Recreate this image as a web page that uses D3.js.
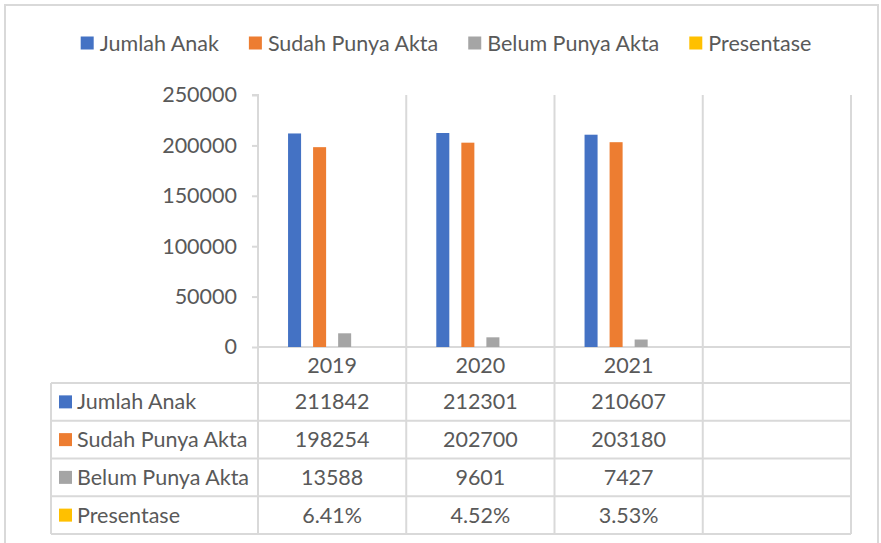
<!DOCTYPE html>
<html>
<head>
<meta charset="utf-8">
<script src="https://cdn.jsdelivr.net/npm/d3@7"></script>
<style>
  body { margin: 0; background: #fff; }
  text { font-family: Lato, "Open Sans", sans-serif; fill: #595959; }
</style>
</head>
<body>
<div id="chart"></div>
<script>
// data
const years = ["2019", "2020", "2021", ""];
const seriesNames = ["Jumlah Anak", "Sudah Punya Akta", "Belum Punya Akta", "Presentase"];
const jumlahAnak = [211842, 212301, 210607];
const sudahPunya = [198254, 202700, 203180];
const belumPunya = [13588, 9601, 7427];
const presentase = [6.41, 4.52, 3.53];
const yTicks = [0, 50000, 100000, 150000, 200000, 250000];
const colors = ["#4472C4", "#ED7D31", "#A5A5A5", "#FFC000"];

const series = [jumlahAnak, sudahPunya, belumPunya, presentase];
const fmt = [d => d, d => d, d => d, d => d.toFixed(2) + "%"];

const W = 881, H = 543;
const fontSize = 21.5;
const gridColor = "#d9d9d9";

// plot area
const plot = {left: 258, right: 851, top: 95, bottom: 347};
const tableLeft = 51, tableTop = 383, rowH = 37.75;

const svg = d3.select("#chart")
  .append("svg")
    .attr("width", W)
    .attr("height", H);

// chart border
svg.append("rect")
  .attr("x", 5).attr("y", 5)
  .attr("width", 873).attr("height", H + 20)
  .attr("fill", "#fff")
  .attr("stroke", gridColor)
  .attr("stroke-width", 2);

// scales
const x0 = d3.scaleBand()
  .domain(years)
  .range([plot.left, plot.right]);

const x1 = d3.scaleBand()
  .domain(seriesNames)
  .range([0, x0.bandwidth()])
  .paddingInner(0.48)
  .paddingOuter(1.2);

const y = d3.scaleLinear()
  .domain([0, 250000])
  .range([plot.bottom, plot.top]);

// vertical category lines (plot + table)
const tableBottom = tableTop + rowH * seriesNames.length;
svg.append("g")
  .selectAll("line")
  .data(years)
  .join("line")
    .attr("x1", d => x0(d) + x0.bandwidth())
    .attr("x2", d => x0(d) + x0.bandwidth())
    .attr("y1", plot.top)
    .attr("y2", tableBottom)
    .attr("stroke", gridColor)
    .attr("stroke-width", 2);

// y axis
svg.append("g")
  .attr("transform", `translate(${plot.left},0)`)
  .call(d3.axisLeft(y).tickValues(yTicks).tickSize(6).tickPadding(15).tickFormat(d3.format("d")))
  .call(g => g.select(".domain").attr("stroke", gridColor).attr("stroke-width", 2)
      .attr("d", `M-6,${plot.top}H0V${tableBottom}`))
  .call(g => g.selectAll(".tick line").attr("stroke", gridColor).attr("stroke-width", 2))
  .call(g => g.selectAll(".tick text")
      .style("font-size", fontSize + "px")
      .style("font-family", "Lato, sans-serif")
      .attr("fill", "#595959"));

// x axis line and header row
svg.append("line")
  .attr("x1", plot.left).attr("x2", plot.right)
  .attr("y1", plot.bottom).attr("y2", plot.bottom)
  .attr("stroke", gridColor).attr("stroke-width", 2);

svg.append("g")
  .selectAll("text")
  .data(years)
  .join("text")
    .attr("x", d => x0(d) + x0.bandwidth() / 2)
    .attr("y", (plot.bottom + tableTop) / 2)
    .attr("dy", "0.35em")
    .attr("text-anchor", "middle")
    .style("font-size", fontSize + "px")
    .text(d => d);

// bars
const barData = [];
series.forEach((vals, si) => {
  vals.forEach((v, ci) => barData.push({year: years[ci], name: seriesNames[si], value: v, color: colors[si]}));
});

svg.append("g")
  .selectAll("rect")
  .data(barData)
  .join("rect")
    .attr("x", d => x0(d.year) + x1(d.name))
    .attr("y", d => y(d.value))
    .attr("width", x1.bandwidth())
    .attr("height", d => y(0) - y(d.value))
    .attr("fill", d => d.color);

// data table
const table = svg.append("g");
for (let r = 0; r <= seriesNames.length; r++) {
  table.append("line")
    .attr("x1", tableLeft).attr("x2", plot.right)
    .attr("y1", tableTop + r * rowH).attr("y2", tableTop + r * rowH)
    .attr("stroke", gridColor).attr("stroke-width", 2);
}
table.append("line")
  .attr("x1", tableLeft).attr("x2", tableLeft)
  .attr("y1", tableTop).attr("y2", tableBottom)
  .attr("stroke", gridColor).attr("stroke-width", 2);

const rows = table.selectAll(".row")
  .data(seriesNames)
  .join("g")
    .attr("class", "row")
    .attr("transform", (d, i) => `translate(0,${tableTop + i * rowH + rowH / 2})`);

rows.append("rect")
  .attr("x", 59).attr("y", -6.5)
  .attr("width", 13).attr("height", 13)
  .attr("fill", (d, i) => colors[i]);

rows.append("text")
  .attr("x", 77)
  .attr("dy", "0.35em")
  .style("font-size", fontSize + "px")
  .text(d => d);

rows.each(function(name, si) {
  d3.select(this).selectAll(".val")
    .data(series[si])
    .join("text")
      .attr("class", "val")
      .attr("x", (d, ci) => x0(years[ci]) + x0.bandwidth() / 2)
      .attr("dy", "0.35em")
      .attr("text-anchor", "middle")
      .style("font-size", fontSize + "px")
      .text(d => fmt[si](d));
});

// legend
const legend = svg.append("g").attr("transform", "translate(0,43)");
const items = legend.selectAll("g")
  .data(seriesNames)
  .join("g");
items.append("rect")
  .attr("y", -6.5).attr("width", 13).attr("height", 13)
  .attr("fill", (d, i) => colors[i]);
items.append("text")
  .attr("x", 19)
  .attr("dy", "0.35em")
  .style("font-size", fontSize + "px")
  .text(d => d);

let pos = 0;
const offsets = [];
items.each(function() {
  offsets.push(pos);
  pos += this.getBBox().width + 30;
});
const legendW = pos - 30;
const startX = 446 - legendW / 2;
items.attr("transform", (d, i) => `translate(${startX + offsets[i]},0)`);
</script>
</body>
</html>
